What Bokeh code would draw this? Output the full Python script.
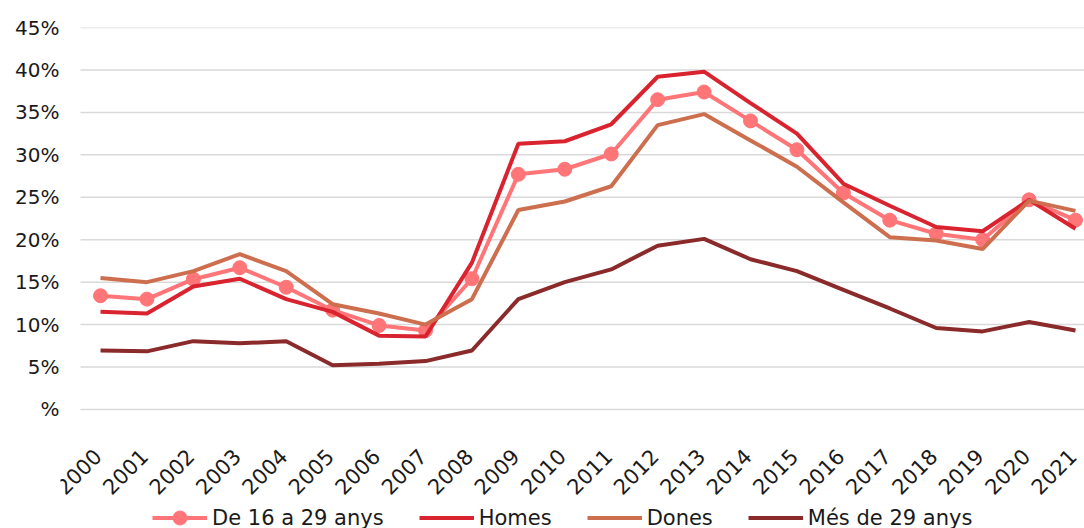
import math
from bokeh.plotting import figure
from bokeh.models import FixedTicker, Legend, LegendItem, Range1d, ColumnDataSource
from bokeh.core.properties import value
from bokeh.embed import file_html
from bokeh.resources import INLINE

years = list(range(2000, 2022))
year_labels = [str(y) for y in years]

de16_29 = [13.4, 13.0, 15.35, 16.7, 14.4, 11.7, 9.9, 9.3, 15.4, 27.7, 28.3, 30.1,
           36.5, 37.4, 34.0, 30.6, 25.5, 22.3, 20.7, 20.0, 24.7, 22.3]
homes = [11.5, 11.3, 14.5, 15.4, 13.0, 11.5, 8.7, 8.6, 17.3, 31.3, 31.6, 33.6,
         39.2, 39.8, 36.1, 32.5, 26.6, 24.0, 21.5, 21.0, 24.7, 21.3]
dones = [15.5, 15.0, 16.3, 18.3, 16.3, 12.4, 11.3, 10.0, 13.0, 23.5, 24.5, 26.3,
         33.5, 34.8, 31.7, 28.6, 24.4, 20.3, 19.9, 18.9, 24.6, 23.4]
mes29 = [6.95, 6.85, 8.05, 7.8, 8.05, 5.2, 5.4, 5.7, 6.95, 13.0, 15.0, 16.5,
         19.3, 20.1, 17.7, 16.3, 14.1, 11.9, 9.6, 9.2, 10.3, 9.3]

y_ticks = [0, 5, 10, 15, 20, 25, 30, 35, 40, 45]
y_labels = ["%", "5%", "10%", "15%", "20%", "25%", "30%", "35%", "40%", "45%"]

names = ["De 16 a 29 anys", "Homes", "Dones", "Més de 29 anys"]
colors = ["#FF7578", "#D9232F", "#CD6F4F", "#8A2A2A"]

FONT = "DejaVu Sans"
TEXT_COLOR = "#1a1a1a"

# frame: x from 60 px to the right edge, y down to the bottom edge so that
# the year labels and the legend are drawn inside it.
X_START, X_END = 1999.138, 2021.194   # 2000 -> 100 px, 2021 -> 1075 px
GRID_X0 = 1999.569                    # gridlines start at 80 px
Y_MIN = -14.02                        # 0 % -> 409 px, 45 % -> 27 px

p = figure(width=1084, height=528, output_backend="svg", toolbar_location=None,
           min_border_left=60, min_border_right=0, min_border_top=27, min_border_bottom=0)
p.x_range = Range1d(X_START, X_END)
p.y_range = Range1d(Y_MIN, 45)
p.outline_line_color = None
p.background_fill_color = "white"
p.border_fill_color = "white"

p.xgrid.grid_line_color = None
p.ygrid.grid_line_color = None
p.segment(x0=[GRID_X0] * len(y_ticks), y0=y_ticks, x1=[X_END] * len(y_ticks), y1=y_ticks,
          line_color="#D9D9D9", line_width=1.5)

p.yaxis.ticker = FixedTicker(ticks=y_ticks)
p.yaxis.major_label_overrides = {t: l for t, l in zip(y_ticks, y_labels)}
ax = p.yaxis[0]
ax.axis_line_color = None
ax.major_tick_line_color = None
ax.minor_tick_line_color = None
ax.major_tick_out = 0
ax.major_tick_in = 0
ax.minor_tick_out = 0
ax.minor_tick_in = 0
ax.major_label_text_font = FONT
ax.major_label_text_color = TEXT_COLOR
ax.major_label_text_font_size = "20px"
ax.major_label_standoff = 1

p.xaxis.visible = False

# year labels, rotated 45 degrees, hanging below the 0 % line
lab_src = ColumnDataSource(dict(x=years, y=[0] * len(years), t=year_labels))
p.text(x="x", y="y", text="t", source=lab_src, angle=math.pi / 4,
       text_align="right", text_baseline="middle", x_offset=-3, y_offset=43,
       text_font=value(FONT), text_font_size=value("21px"),
       text_color=TEXT_COLOR)

series = [de16_29, homes, dones, mes29]
items = []
for name, vals, col in zip(names, series, colors):
    r = p.line(years, vals, line_color=col, line_width=4)
    rs = [r]
    if name == names[0]:
        c = p.scatter(years, vals, size=14, fill_color=col, line_color=col)
        rs.append(c)
    items.append(LegendItem(label=name, renderers=rs))

legend = Legend(items=items, orientation="horizontal", location=(92, -7),
                label_text_font=FONT, label_text_font_size="21px",
                label_text_color=TEXT_COLOR, glyph_width=55, glyph_height=35,
                label_height=35,
                label_standoff=5, spacing=35, padding=0, margin=0,
                border_line_color=None, background_fill_alpha=0)
p.add_layout(legend)

open("out.html", "w").write(file_html(p, INLINE))
